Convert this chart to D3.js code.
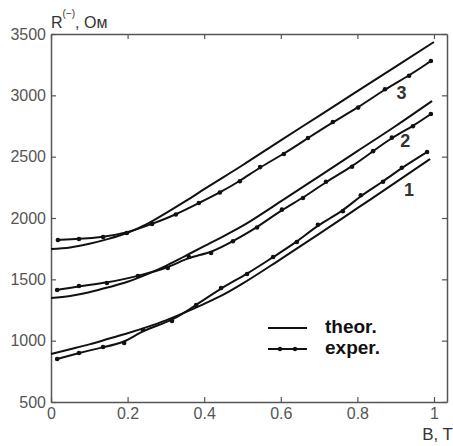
<!DOCTYPE html>
<html>
<head>
<meta charset="utf-8">
<script src="https://cdn.jsdelivr.net/npm/d3@7"></script>
<style>
  body { margin: 0; background: #fff; }
  svg { display: block; }
</style>
</head>
<body>
<svg id="chart" width="453" height="446"></svg>
<script>
// Magnetic field, T
const xTicks = [0, 0.2, 0.4, 0.6, 0.8, 1];
const xTickLabels = ["0", "0.2", "0.4", "0.6", "0.8", "1"];
const yTicks = [500, 1000, 1500, 2000, 2500, 3000, 3500];

// Theoretical curves (B, R)
const theoryB1 = [0, 0.05, 0.1, 0.15, 0.2, 0.25, 0.3, 0.35, 0.4, 0.45, 0.5, 0.6, 0.7, 0.8, 0.9, 0.99];
const theoryR1 = [891, 930, 970, 1015, 1060, 1110, 1165, 1230, 1300, 1375, 1465, 1665, 1870, 2080, 2290, 2481];
const theoryB2 = [0, 0.05, 0.1, 0.15, 0.2, 0.25, 0.3, 0.35, 0.4, 0.45, 0.5, 0.6, 0.7, 0.8, 0.9, 0.995];
const theoryR2 = [1348, 1365, 1395, 1435, 1480, 1540, 1610, 1690, 1770, 1850, 1935, 2135, 2340, 2545, 2750, 2954];
const theoryB3 = [0, 0.05, 0.1, 0.15, 0.2, 0.25, 0.3, 0.35, 0.4, 0.5, 0.6, 0.7, 0.8, 0.9, 1.0];
const theoryR3 = [1747, 1760, 1790, 1830, 1880, 1950, 2040, 2135, 2235, 2430, 2633, 2833, 3034, 3234, 3435];

// Measured curves (B, R)
const experB1 = [0.016, 0.073, 0.136, 0.191, 0.240, 0.316, 0.379, 0.444, 0.512, 0.580, 0.642, 0.697, 0.762, 0.809, 0.867, 0.916, 0.982];
const experR1 = [851, 899, 948, 981, 1087, 1160, 1291, 1429, 1543, 1682, 1804, 1945, 2055, 2185, 2295, 2410, 2538];
const experB2 = [0.016, 0.073, 0.146, 0.227, 0.305, 0.360, 0.418, 0.475, 0.538, 0.603, 0.658, 0.718, 0.786, 0.841, 0.890, 0.945, 0.992];
const experR2 = [1413, 1446, 1470, 1527, 1592, 1682, 1715, 1810, 1922, 2068, 2163, 2295, 2418, 2545, 2655, 2748, 2848];
const experB3 = [0.018, 0.073, 0.136, 0.198, 0.264, 0.326, 0.386, 0.441, 0.493, 0.546, 0.608, 0.671, 0.736, 0.802, 0.872, 0.935, 0.992];
const experR3 = [1821, 1829, 1845, 1878, 1951, 2028, 2122, 2208, 2300, 2415, 2522, 2652, 2782, 2900, 3050, 3160, 3280];

const curveNames = ["1", "2", "3"];
const curveLabelAt = [[0.935, 2220], [0.925, 2620], [0.915, 3010]];

const svg = d3.select("#chart");
const plotLeft = 51, plotRight = 447, plotTop = 34, plotBottom = 402;
const font = "Arial, 'Liberation Sans', sans-serif";

const x = d3.scaleLinear().domain([0, 1.034]).range([plotLeft, plotRight]);
const y = d3.scaleLinear().domain([500, 3500]).range([plotBottom, plotTop]);

const axisColor = "#555";
const labelColor = "#555";

// Frame with inward ticks on all four sides
function styleAxis(g, showLabels) {
  g.select(".domain").attr("stroke", axisColor).attr("stroke-width", 1.5);
  g.selectAll(".tick line").attr("stroke", axisColor).attr("stroke-width", 1.2);
  g.selectAll(".tick text")
    .attr("fill", labelColor)
    .style("font-family", font)
    .style("font-size", "16px");
  if (!showLabels) g.selectAll(".tick text").remove();
}

svg.append("g")
  .attr("transform", `translate(0,${plotBottom})`)
  .call(d3.axisBottom(x).tickValues(xTicks)
    .tickFormat((d, i) => xTickLabels[i]).tickSize(-5).tickPadding(6).tickSizeOuter(0))
  .call(g => styleAxis(g, true));

svg.append("g")
  .attr("transform", `translate(${plotLeft},0)`)
  .call(d3.axisLeft(y).tickValues(yTicks).tickFormat(d3.format("d"))
    .tickSize(-5).tickPadding(5).tickSizeOuter(0))
  .call(g => styleAxis(g, true));

svg.append("g")
  .attr("transform", `translate(0,${plotTop})`)
  .call(d3.axisTop(x).tickValues(xTicks).tickSize(-5).tickSizeOuter(0))
  .call(g => styleAxis(g, false));

svg.append("g")
  .attr("transform", `translate(${plotRight},0)`)
  .call(d3.axisRight(y).tickValues(yTicks).tickSize(-5).tickSizeOuter(0))
  .call(g => styleAxis(g, false));

// Curves
const smooth = d3.line().x(d => x(d[0])).y(d => y(d[1])).curve(d3.curveMonotoneX);
const fitted = d3.line().x(d => x(d[0])).y(d => y(d[1])).curve(d3.curveBasis);

const theory = [
  d3.zip(theoryB1, theoryR1),
  d3.zip(theoryB2, theoryR2),
  d3.zip(theoryB3, theoryR3)
];
const exper = [
  d3.zip(experB1, experR1),
  d3.zip(experB2, experR2),
  d3.zip(experB3, experR3)
];

const plot = svg.append("g");

theory.forEach(pts => {
  plot.append("path")
    .attr("d", smooth(pts))
    .attr("fill", "none")
    .attr("stroke", "#111")
    .attr("stroke-width", 2);
});

exper.forEach(pts => {
  plot.append("path")
    .attr("d", fitted(pts))
    .attr("fill", "none")
    .attr("stroke", "#111")
    .attr("stroke-width", 2);
  plot.selectAll(null)
    .data(pts)
    .join("circle")
    .attr("cx", d => x(d[0]))
    .attr("cy", d => y(d[1]))
    .attr("r", 2.3)
    .attr("fill", "#111");
});

// Curve numbers
plot.selectAll(null)
  .data(curveNames)
  .join("text")
  .attr("x", (d, i) => x(curveLabelAt[i][0]))
  .attr("y", (d, i) => y(curveLabelAt[i][1]))
  .attr("text-anchor", "middle")
  .attr("dominant-baseline", "middle")
  .style("font-family", font)
  .style("font-size", "18px")
  .style("font-weight", "bold")
  .attr("fill", "#333")
  .text(d => d);

// Legend
const legend = svg.append("g").attr("transform", "translate(268,328)");
legend.append("line")
  .attr("x1", 0).attr("x2", 39).attr("y1", 0).attr("y2", 0)
  .attr("stroke", "#111").attr("stroke-width", 2);
legend.append("text")
  .attr("x", 57).attr("y", 0).attr("dominant-baseline", "middle")
  .style("font-family", font)
  .style("font-size", "19px").style("font-weight", "bold")
  .attr("fill", "#111")
  .text("theor.");
const le = legend.append("g").attr("transform", "translate(0,21)");
le.append("line")
  .attr("x1", 0).attr("x2", 39).attr("y1", 0).attr("y2", 0)
  .attr("stroke", "#111").attr("stroke-width", 2);
le.selectAll("circle").data([12, 27]).join("circle")
  .attr("cx", d => d).attr("cy", 0).attr("r", 2.2).attr("fill", "#111");
le.append("text")
  .attr("x", 57).attr("y", 0).attr("dominant-baseline", "middle")
  .style("font-family", font)
  .style("font-size", "19px").style("font-weight", "bold")
  .attr("fill", "#111")
  .text("exper.");

// Axis titles
const yTitle = svg.append("text")
  .attr("x", 51).attr("y", 28)
  .style("font-family", font)
  .style("font-size", "16px")
  .attr("fill", "#333");
yTitle.append("tspan").text("R");
yTitle.append("tspan").attr("dy", -11).style("font-size", "10px").text("(−)");
yTitle.append("tspan").attr("dy", 11).text(", Ом");

svg.append("text")
  .attr("x", 453).attr("y", 440)
  .attr("text-anchor", "end")
  .style("font-family", font)
  .style("font-size", "17px")
  .attr("fill", "#333")
  .text("B, T");
</script>
</body>
</html>
